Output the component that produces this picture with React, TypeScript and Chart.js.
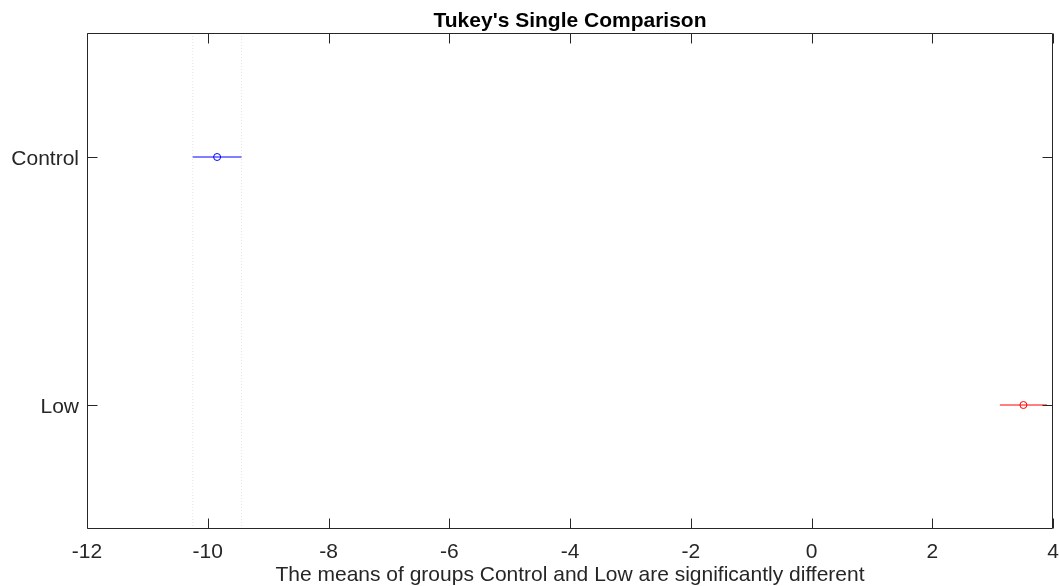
import React, { useEffect, useRef } from "react";
import { Chart, registerables } from "chart.js";

Chart.register(...registerables);

const groups = ["Control", "Low"];
const means = [-9.845, 3.51];
const lowerBounds = [-10.25, 3.12];
const upperBounds = [-9.44, 3.9];
const groupColors = ["#0000ff", "#ff0000"];
const xTickValues = [-12, -10, -8, -6, -4, -2, 0, 2, 4];
const xMin = -12;
const xMax = 4;
const titleText = "Tukey's Single Comparison";
const xLabelText = "The means of groups Control and Low are significantly different";

const FONT = "'Liberation Sans', Arial, Helvetica, sans-serif";
const INK = "#262626";

const yPos = (i: number) => groups.length - i;

const framePlugin = {
  id: "frame",
  afterDraw(chart: any) {
    const ctx = chart.ctx;
    const a = chart.chartArea;
    const xs = chart.scales.x;
    const ys = chart.scales.y;
    const L = Math.round(a.left) + 0.5;
    const R = Math.round(a.right) - 0.5;
    const T = Math.round(a.top) + 0.5;
    const B = Math.round(a.bottom) - 0.5;
    ctx.save();
    ctx.strokeStyle = INK;
    ctx.lineWidth = 1;
    ctx.beginPath();
    ctx.rect(L, T, R - L, B - T);
    const tl = 10;
    xTickValues.forEach((v) => {
      const px = Math.round(xs.getPixelForValue(v)) + 0.5;
      ctx.moveTo(px, B);
      ctx.lineTo(px, B - tl);
      ctx.moveTo(px, T);
      ctx.lineTo(px, T + tl);
    });
    groups.forEach((_, i) => {
      const py = Math.round(ys.getPixelForValue(yPos(i))) + 0.5;
      ctx.moveTo(L, py);
      ctx.lineTo(L + tl, py);
      ctx.moveTo(R, py);
      ctx.lineTo(R - tl, py);
    });
    ctx.stroke();

    // tick labels
    ctx.fillStyle = INK;
    ctx.font = `21px ${FONT}`;
    ctx.textAlign = "center";
    ctx.textBaseline = "alphabetic";
    xTickValues.forEach((v) => {
      ctx.fillText(String(v), xs.getPixelForValue(v), 558);
    });
    ctx.textAlign = "right";
    groups.forEach((g, i) => {
      ctx.fillText(g, a.left - 8, ys.getPixelForValue(yPos(i)) + 8);
    });

    const cx = (a.left + a.right) / 2;
    ctx.fillStyle = "#000000";
    ctx.textAlign = "center";
    ctx.font = `bold 21px ${FONT}`;
    ctx.fillText(titleText, cx, 27);
    ctx.fillStyle = INK;
    ctx.font = `21px ${FONT}`;
    ctx.fillText(xLabelText, cx, 581);
    ctx.restore();
  },
};

export default function App() {
  const ref = useRef<HTMLCanvasElement | null>(null);

  useEffect(() => {
    if (!ref.current) return;
    const datasets: any[] = [];
    [lowerBounds[0], upperBounds[0]].forEach((v) => {
      datasets.push({
        data: [
          { x: v, y: 0.5 },
          { x: v, y: 2.5 },
        ],
        showLine: true,
        borderColor: "rgba(0,0,0,0.1)",
        borderWidth: 1,
        borderDash: [1, 2],
        pointRadius: 0,
      });
    });
    groups.forEach((g, i) => {
      datasets.push({
        label: g + " interval",
        data: [
          { x: lowerBounds[i], y: yPos(i) },
          { x: upperBounds[i], y: yPos(i) },
        ],
        showLine: true,
        borderColor: groupColors[i],
        borderWidth: 1,
        pointRadius: 0,
      });
    });
    groups.forEach((g, i) => {
      datasets.push({
        label: g,
        data: [{ x: means[i], y: yPos(i) }],
        pointStyle: "circle",
        pointRadius: 3.5,
        pointBorderWidth: 1,
        borderColor: groupColors[i],
        backgroundColor: "#ffffff",
      });
    });

    const chart = new Chart(ref.current, {
      type: "scatter",
      data: { datasets },
      options: {
        animation: false,
        responsive: false,
        layout: { padding: { left: 87, top: 33, right: 6, bottom: 57 } },
        plugins: {
          legend: { display: false },
          title: { display: false },
          tooltip: { enabled: false },
        },
        scales: {
          x: {
            type: "linear",
            min: xMin,
            max: xMax,
            grid: { display: false, drawTicks: false },
            border: { display: false },
            ticks: { display: false },
            afterFit: (s: any) => {
              s.height = 0;
            },
          },
          y: {
            type: "linear",
            min: 0.5,
            max: 2.5,
            grid: { display: false, drawTicks: false },
            border: { display: false },
            ticks: { display: false },
            afterFit: (s: any) => {
              s.width = 0;
            },
          },
        },
      },
      plugins: [framePlugin],
    });
    return () => chart.destroy();
  }, []);

  return (
    <div style={{ position: "fixed", left: 0, top: 0, width: 1059, height: 586, background: "#fff" }}>
      <canvas ref={ref} width={1059} height={586} style={{ width: 1059, height: 586, display: "block" }} />
    </div>
  );
}
